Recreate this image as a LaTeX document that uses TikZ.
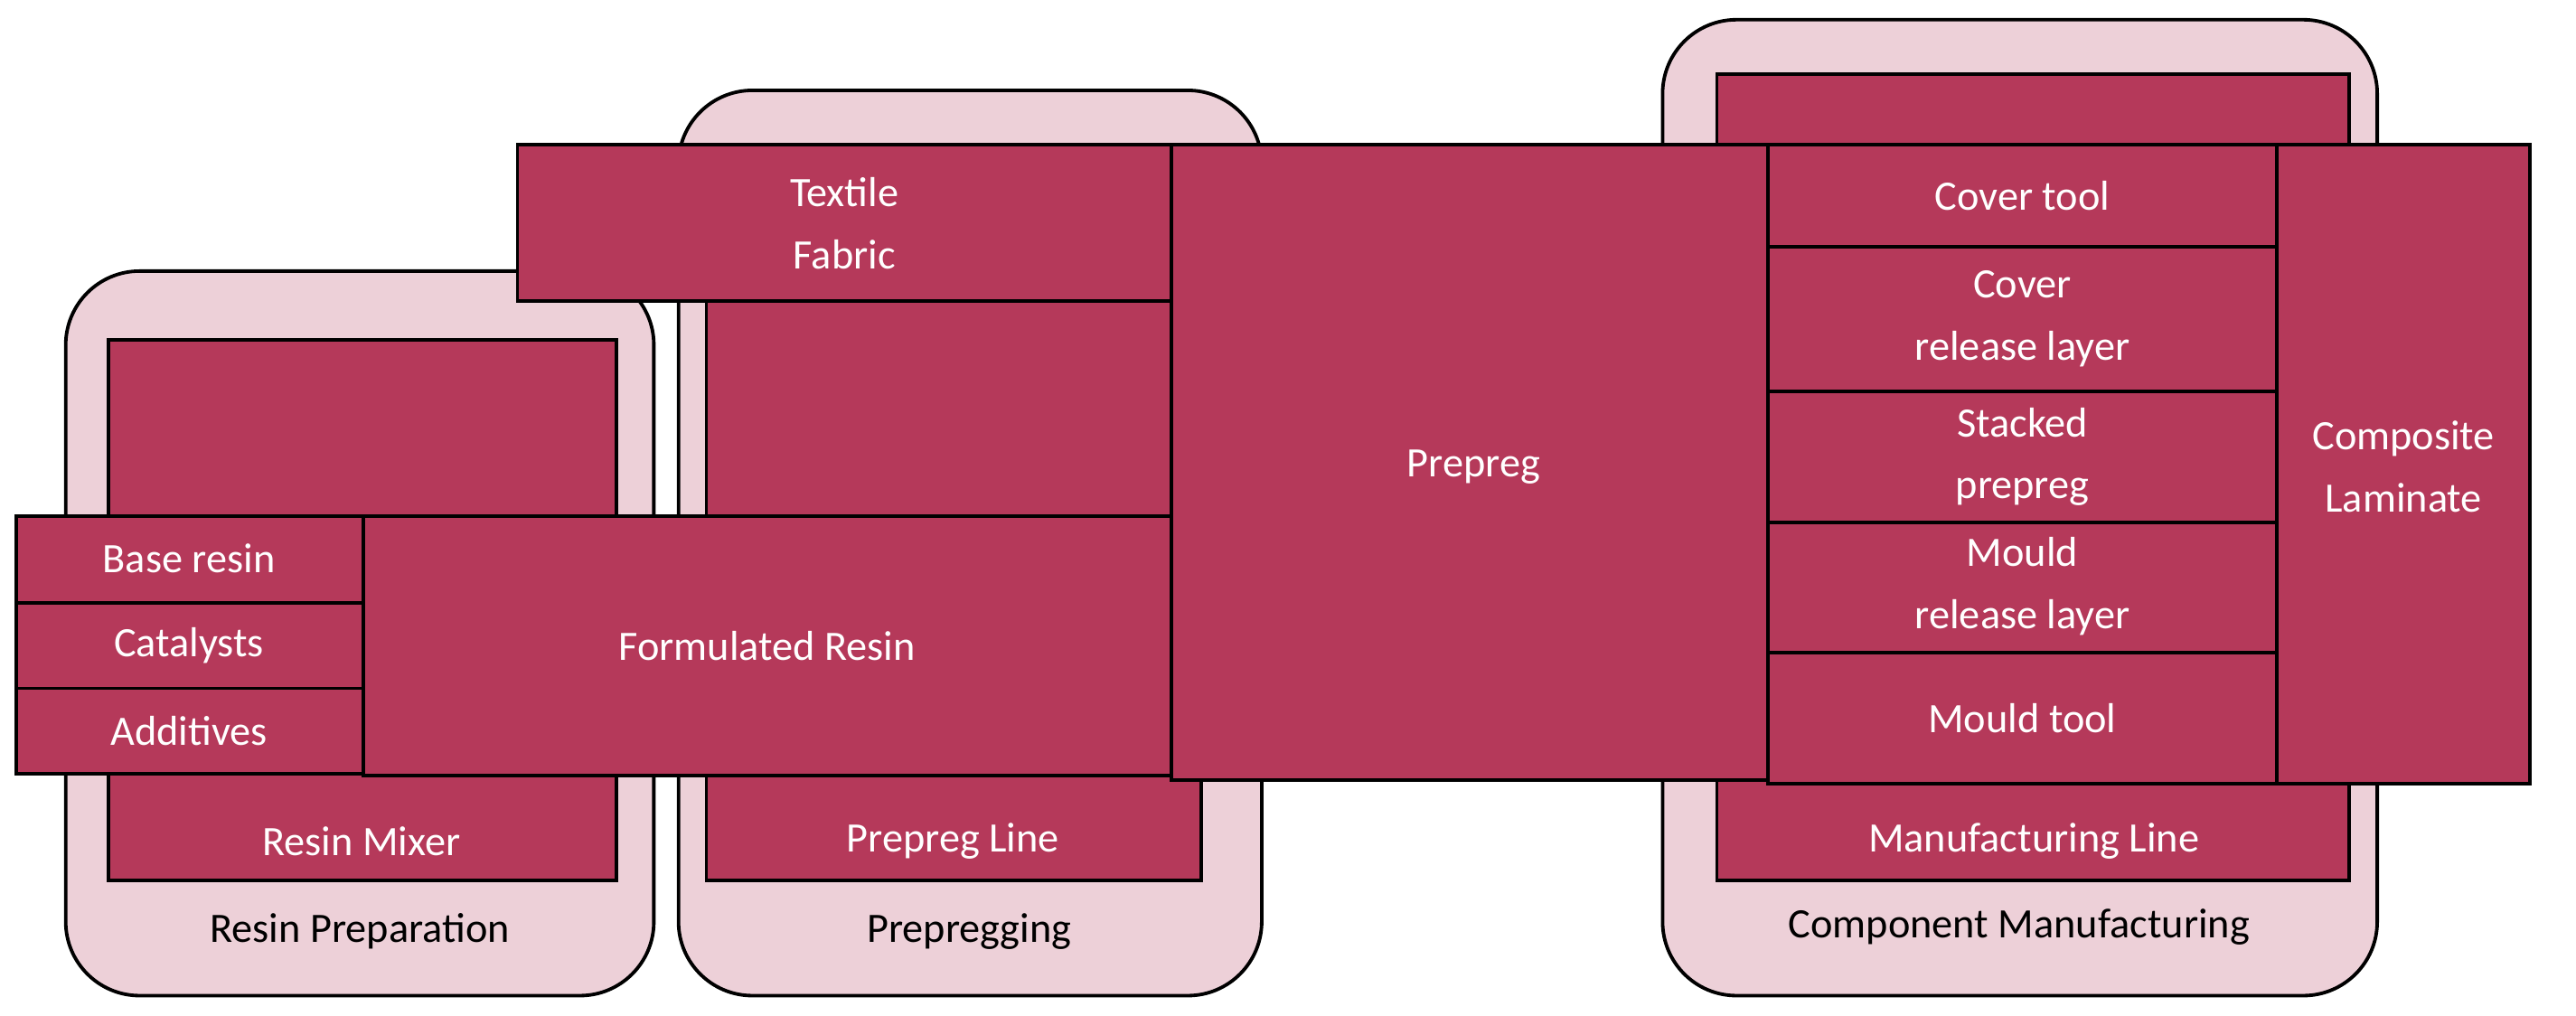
\documentclass[tikz,border=0pt]{standalone}
\usepackage{fontspec}
\setmainfont{Carlito}
\definecolor{dark}{HTML}{B5395A}
\definecolor{panel}{HTML}{EDD0D8}
\begin{document}
\begin{tikzpicture}[x=0.02cm,y=-0.02cm,
 panel/.style={draw=black,line width=1.2pt,fill=panel,rounded corners=0.9cm},
 box/.style={draw=black,line width=1.2pt,fill=dark},
 wt/.style={text=white,font=\fontsize{14.5}{21.5}\selectfont,align=center},
 bt/.style={text=black,font=\fontsize{14.5}{21.5}\selectfont,align=center}]
\useasboundingbox (0,0) rectangle (1568,618);
% panels
\draw[panel] (40,165) rectangle (398,606);
\draw[panel] (413,55) rectangle (768,606);
\draw[panel] (1012,12) rectangle (1447,606);
\node[bt] (rp) at (219,567) {Resin Preparation};
\node[bt] (pp) at (590,567) {Prepregging};
\node[bt] (cm) at (1229,564) {Component Manufacturing};
% lines
\draw[box] (66,207) rectangle (375,536);
\node[wt] (rm) at (220,512) {Resin Mixer};
\draw[box] (430,150) rectangle (731,536);
\node[wt] (pl) at (580,512) {Prepreg Line};
\draw[box] (1045,45) rectangle (1430,536);
\node[wt] (ml) at (1238,512) {Manufacturing Line};
% materials
\draw[box] (315,88) rectangle (713,183);
\node[wt] (tf) at (514,136) {Textile\\Fabric};
\draw[box] (10,314) rectangle (221,367);
\node[wt] (br) at (115,340) {Base resin};
\draw[box] (10,367) rectangle (221,419);
\node[wt] (ca) at (115,393) {Catalysts};
\draw[box] (10,419) rectangle (221,471);
\node[wt] (ad) at (115,445) {Additives};
\draw[box] (221,314) rectangle (713,472);
\node[wt] (fr) at (467,393) {Formulated Resin};
\draw[box] (713,88) rectangle (1076,475);
\node[wt] (pr) at (897,284) {Prepreg};
\draw[box] (1076,88) rectangle (1386,150);
\node[wt] (ct) at (1231,119) {Cover tool};
\draw[box] (1076,150) rectangle (1386,238);
\node[wt] (cr) at (1231,194) {Cover\\release layer};
\draw[box] (1076,238) rectangle (1386,318);
\node[wt] (sp) at (1231,278) {Stacked\\prepreg};
\draw[box] (1076,318) rectangle (1386,397);
\node[wt] (mr) at (1231,357) {Mould\\release layer};
\draw[box] (1076,397) rectangle (1386,477);
\node[wt] (mt) at (1231,437) {Mould tool};
\draw[box] (1386,88) rectangle (1540,477);
\node[wt] (cl) at (1463,284) {Composite\\Laminate};
\end{tikzpicture}
\end{document}
